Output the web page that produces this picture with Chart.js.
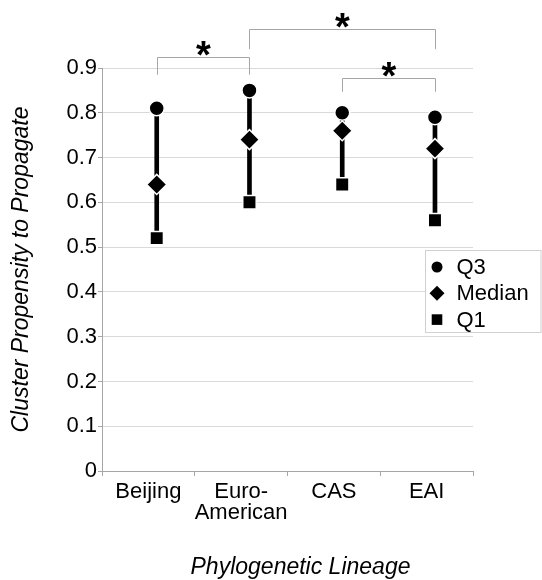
<!DOCTYPE html>
<html>
<head>
<meta charset="utf-8">
<script src="https://cdn.jsdelivr.net/npm/chart.js@4.4.1/dist/chart.umd.min.js"></script>
<style>
  html, body { margin: 0; padding: 0; background: #fff; }
  #wrap { width: 542px; height: 580px; position: relative; }
</style>
</head>
<body>
<div id="wrap"><canvas id="lineageChart"></canvas></div>
<script>
const lineages = ['Beijing', ['Euro-', 'American'], 'CAS', 'EAI'];
const q3Values = [0.81, 0.85, 0.80, 0.79];
const medianValues = [0.64, 0.74, 0.76, 0.72];
const q1Values = [0.52, 0.60, 0.64, 0.56];

// significant differences between lineages (index pairs), bracket height and leg drop
const sigPairs = [[0, 1], [1, 3], [2, 3]];
const sigHeights = [0.925, 0.987, 0.877];
const sigDrops = [0.04, 0.045, 0.03];

const FONT = '"Liberation Sans", Arial, sans-serif';
Chart.defaults.font.family = FONT;
Chart.defaults.font.size = 22;
Chart.defaults.color = '#000';

const pointSeries = [
    { label: 'Q3', values: q3Values, style: 'circle', radius: 7.5, legendRadius: 5.5 },
    { label: 'Median', values: medianValues, style: 'rectRot', radius: 10, legendRadius: 7.5 },
    { label: 'Q1', values: q1Values, style: 'rect', radius: 9.5, legendRadius: 7.5 }
];

// brackets, asterisks, x title and the boxed legend
const annotations = {
    id: 'annotations',
    afterDraw(chart) {
        const { ctx, chartArea } = chart;
        const xp = chart.scales.xp;
        const y = chart.scales.y;
        ctx.save();

        sigPairs.forEach(([a, b], k) => {
            const xa = Math.round(xp.getPixelForValue(a)) + 0.5;
            const xb = Math.round(xp.getPixelForValue(b)) + 0.5;
            const yt = Math.round(y.getPixelForValue(sigHeights[k])) + 0.5;
            const yl = y.getPixelForValue(sigHeights[k] - sigDrops[k]);
            ctx.strokeStyle = '#a6a6a6';
            ctx.lineWidth = 1;
            ctx.beginPath();
            ctx.moveTo(xa, yl);
            ctx.lineTo(xa, yt);
            ctx.lineTo(xb, yt);
            ctx.lineTo(xb, yl);
            ctx.stroke();
            ctx.fillStyle = '#000';
            ctx.font = 'bold 38px ' + FONT;
            ctx.textAlign = 'center';
            ctx.textBaseline = 'middle';
            ctx.fillText('*', (xa + xb) / 2, yt);
        });

        ctx.font = 'italic 23px ' + FONT;
        ctx.textAlign = 'center';
        ctx.textBaseline = 'middle';
        ctx.fillStyle = '#000';
        ctx.fillText('Phylogenetic Lineage', (chartArea.left + chartArea.right) / 2 + 13, chart.height - 12);

        const boxX = chartArea.right - 47.5;
        const boxY = chartArea.top + 182.5;
        const boxW = chart.width - 1 - boxX;
        const boxH = 82;
        ctx.fillStyle = '#fff';
        ctx.fillRect(boxX, boxY, boxW, boxH);
        ctx.strokeStyle = '#d0d0d0';
        ctx.lineWidth = 1;
        ctx.strokeRect(boxX, boxY, boxW, boxH);

        ctx.font = '22px ' + FONT;
        ctx.textAlign = 'left';
        pointSeries.forEach((s, i) => {
            const rowY = boxY + 16.5 + i * 26.3;
            ctx.fillStyle = '#000';
            Chart.helpers.drawPoint(ctx, { pointStyle: s.style, radius: s.legendRadius, borderWidth: 0, rotation: 0 }, boxX + 11.5, rowY);
            ctx.fillText(s.label, boxX + 31, rowY + 1);
        });
        ctx.restore();
    }
};

const datasets = [{
    type: 'bar',
    label: 'IQR',
    data: lineages.map((l, i) => ({ x: i, y: [q1Values[i], q3Values[i]] })),
    backgroundColor: '#000',
    barThickness: 4,
    xAxisID: 'xp',
    yAxisID: 'y',
    order: 10
}];
pointSeries.forEach(s => {
    datasets.push({
        label: s.label,
        data: s.values.map((v, i) => ({ x: i, y: v })),
        pointStyle: s.style,
        pointRadius: s.radius,
        pointBackgroundColor: '#000',
        pointBorderColor: '#fff',
        pointBorderWidth: 1.5,
        xAxisID: 'xp',
        yAxisID: 'y',
        order: 1
    });
});

const chart = new Chart(document.getElementById('lineageChart'), {
    type: 'scatter',
    data: { datasets: datasets },
    options: {
        responsive: true,
        maintainAspectRatio: false,
        animation: false,
        layout: { padding: { top: 68, right: 69, left: 0, bottom: 0 } },
        plugins: { legend: { display: false }, tooltip: { enabled: false } },
        scales: {
            x: {
                type: 'category',
                labels: lineages,
                offset: true,
                grid: { offset: true, drawOnChartArea: false, tickLength: 5, color: '#a6a6a6' },
                border: { color: '#a6a6a6' },
                ticks: { maxRotation: 0, autoSkip: false, padding: 5, font: { size: 22, lineHeight: 0.98 } },
                afterFit: s => { s.height = 109; }
            },
            xp: {
                type: 'linear',
                display: false,
                offset: false,
                grid: { offset: false },
                min: -0.59,
                max: 3.41
            },
            y: {
                type: 'linear',
                min: 0,
                max: 0.9,
                ticks: { stepSize: 0.1, padding: 1 },
                grid: { color: '#d9d9d9', tickColor: '#a6a6a6', tickLength: 4 },
                border: { color: '#a6a6a6' },
                title: {
                    display: true,
                    text: 'Cluster Propensity to Propagate',
                    font: { size: 23, style: 'italic' },
                    padding: { top: 8 }
                },
                afterFit: s => { s.width = 102; }
            }
        }
    },
    plugins: [annotations]
});
</script>
</body>
</html>
